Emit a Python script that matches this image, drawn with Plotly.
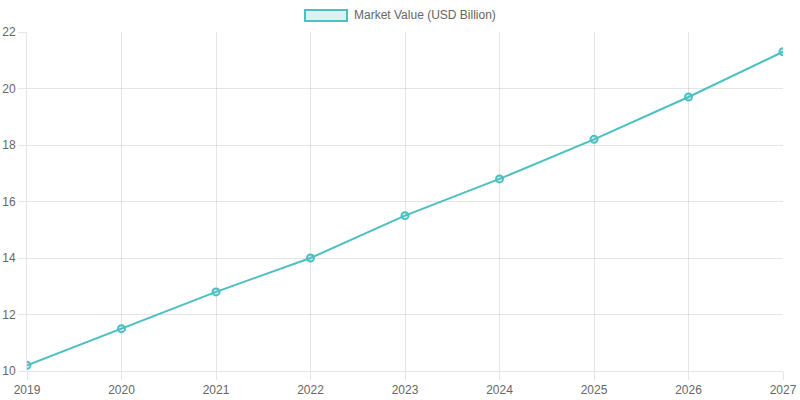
import plotly.graph_objects as go

years = [2019, 2020, 2021, 2022, 2023, 2024, 2025, 2026, 2027]
market_value = [10.2, 11.5, 12.8, 14.0, 15.5, 16.8, 18.2, 19.7, 21.3]
series_name = "Market Value (USD Billion)"

line_color = "rgb(75,192,192)"
fill_color = "rgba(75,192,192,0.2)"
grid = "rgba(0,0,0,0.1)"
font_family = "Liberation Sans, Arial"

fig = go.Figure()
fig.add_trace(go.Scatter(
    x=years, y=market_value, mode="lines+markers", showlegend=False,
    line=dict(color=line_color, width=2),
    marker=dict(size=7, color=fill_color, line=dict(color=line_color, width=2)),
    name=series_name,
))

axis_common = dict(
    showgrid=True, gridcolor=grid, gridwidth=1,
    ticks="outside", ticklen=8, tickcolor=grid,
    showline=True, linecolor=grid, zeroline=False, automargin=False,
    tickfont=dict(family=font_family, size=12, color="#666"),
)

fig.update_xaxes(range=[2019, 2027], tickmode="array", tickvals=years,
                 ticktext=[str(y) for y in years], **axis_common)
fig.update_yaxes(range=[10, 22], dtick=2, **axis_common)

# legend box drawn like the original (wide filled rectangle + label)
fig.add_shape(type="rect", xref="paper", yref="paper",
              x0=0.3677, x1=0.4233, y0=1.0324, y1=1.0649,
              fillcolor=fill_color, line=dict(color=line_color, width=2))
fig.add_annotation(xref="paper", yref="paper", x=0.4299, y=1.0487,
                   xanchor="left", yanchor="middle", showarrow=False,
                   text=series_name,
                   font=dict(family=font_family, size=12, color="#666"))

fig.update_layout(
    width=800, height=400,
    margin=dict(l=27, r=17, t=32, b=29),
    plot_bgcolor="white", paper_bgcolor="white",
    font=dict(family=font_family, size=12, color="#666"),
    showlegend=False,
    hovermode="closest",
)

# drop the default body margin so the figure sits at the page corner
fig.write_html("out.html", config={"displayModeBar": False},
               post_script="document.body.style.margin='0';")
